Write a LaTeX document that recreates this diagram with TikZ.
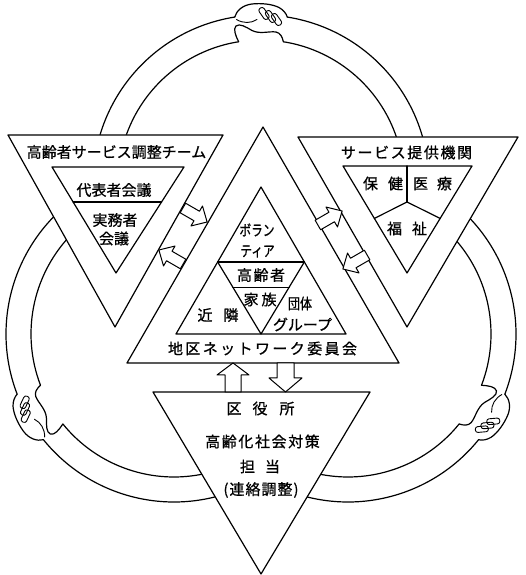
\documentclass[tikz,border=0pt]{standalone}
\usepackage{graphicx}
\usepackage{fontspec}
\newfontfamily\jp[FakeBold=0.8]{Noto Sans CJK JP}
\usetikzlibrary{calc}
\makeatletter
% set the characters of #2 with a kern of #1 between them
\newcommand\spreadtext[2]{\def\spr@k{#1}\spr@loop#2\@nil}
\def\spr@loop#1#2\@nil{#1\ifx\relax#2\relax\else\kern\spr@k\spr@loop#2\@nil\fi}
\makeatother

\tikzset{
  % two clasped hands joining the ends of a ring band (band runs along x, outside is +y)
  pics/clasp/.style={code={
    \draw (-26.28,10.43) .. controls (-24.5,17) and (-18,22.5) .. (-9,23.5)
          .. controls (0,24.5) and (11,23.5) .. (18,20)
          .. controls (22.5,17.5) and (25.2,14) .. (26.28,10.43);
    \foreach \fx/\fy in {3/14,9.5/11,15.5/8}
      \draw[line width=0.9pt,rounded corners=2.4pt,shift={(\fx,\fy)},rotate=35]
        (-2.9,-6.5) -- (2.9,-6.5) -- (2.9,6.5) -- (-2.9,6.5) -- cycle;
    \draw[line width=0.9pt] (-24.5,8) .. controls (-18,4) and (-10,4) .. (-4,8);
    \draw (-22.37,-14.26) .. controls (-25.5,-8) and (-28,-1.5) .. (-25,1.5)
          .. controls (-21.5,4.5) and (-15,0.5) .. (-9,-3)
          .. controls (-1,-7) and (8,-3.5) .. (15,-4.5)
          .. controls (19.5,-5.5) and (21.3,-9.5) .. (22.37,-14.26);
  }},
  % hollow block arrow pointing along +x
  pics/sidearrow/.style={code={
    \draw[blk] (-14,-5.5) -- (2,-5.5) -- (2,-11.5) -- (14,0) -- (2,11.5) -- (2,5.5) -- (-14,5.5) -- cycle;
  }}
}

\begin{document}
\begin{tikzpicture}[x=1pt,y=1pt,line width=1.2pt,line join=round,line cap=round,
  panel/.style={draw,fill=white},
  lbl/.style={inner sep=0pt,font=\fontsize{15}{15}\selectfont\jp},
  blk/.style={draw,fill=white,line width=1pt}]
\useasboundingbox (0,0) rectangle (525,575);

% centres of the three ring arcs
\coordinate (cT) at (261,392);
\coordinate (cL) at (174,241);
\coordinate (cR) at (348,241);

% ring band: outer radius 168, inner radius 143
\draw ([shift={(167:168)}]cT) arc[start angle=167,end angle=99,radius=168];
\draw ([shift={(81:168)}]cT) arc[start angle=81,end angle=13,radius=168];
\draw ([shift={(164:143)}]cT) arc[start angle=164,end angle=99,radius=143];
\draw ([shift={(81:143)}]cT) arc[start angle=81,end angle=16,radius=143];
\draw ([shift={(134:168)}]cL) arc[start angle=134,end angle=201,radius=168];
\draw ([shift={(219:168)}]cL) arc[start angle=219,end angle=286,radius=168];
\draw ([shift={(137:143)}]cL) arc[start angle=137,end angle=201,radius=143];
\draw ([shift={(219:143)}]cL) arc[start angle=219,end angle=283,radius=143];
\draw ([shift={(46:168)}]cR) arc[start angle=46,end angle=-21,radius=168];
\draw ([shift={(-39:168)}]cR) arc[start angle=-39,end angle=-106,radius=168];
\draw ([shift={(43:143)}]cR) arc[start angle=43,end angle=-21,radius=143];
\draw ([shift={(-39:143)}]cR) arc[start angle=-39,end angle=-103,radius=143];

% hands
\pic[rotate=0] at ([shift={(90:155.5)}]cT) {clasp};
\pic[rotate=120] at ([shift={(210:155.5)}]cL) {clasp};
\pic[rotate=240] at ([shift={(330:155.5)}]cR) {clasp};

% the four triangles
\coordinate (LT1) at (8,440);   \coordinate (LT2) at (223,440); \coordinate (LT3) at (115,248);
\coordinate (RT1) at (298,438); \coordinate (RT2) at (518,438); \coordinate (RT3) at (407,248);
\coordinate (CT1) at (263,448); \coordinate (CT2) at (127,212); \coordinate (CT3) at (399,212);
\coordinate (BT1) at (153,183); \coordinate (BT2) at (370,183); \coordinate (BT3) at (261,1);
\draw[panel] (LT1) -- (LT2) -- (LT3) -- cycle;
\draw[panel] (RT1) -- (RT2) -- (RT3) -- cycle;
\draw[panel] (CT1) -- (CT2) -- (CT3) -- cycle;
\draw[panel] (BT1) -- (BT2) -- (BT3) -- cycle;

% left inner triangle
\coordinate (LI1) at (52,408); \coordinate (LI2) at (184,408); \coordinate (LI3) at (116,302);
\draw (LI1) -- (LI2) -- (LI3) -- cycle;
\draw ($(LI1)!0.33!(LI3)$) -- ($(LI2)!0.33!(LI3)$);

% right inner triangle
\coordinate (RI1) at (343,409); \coordinate (RI2) at (472,409); \coordinate (RI3) at (407,302);
\draw (RI1) -- (RI2) -- (RI3) -- cycle;
\coordinate (RY) at (407,373);
\draw (RY) -- (RY |- RI1);
\draw (RY) -- ($(RI1)!0.49!(RI3)$);
\draw (RY) -- ($(RI2)!0.49!(RI3)$);

% centre inner triangle
\coordinate (CI1) at (261,388); \coordinate (CI2) at (176,241); \coordinate (CI3) at (346,241);
\draw (CI1) -- (CI2) -- (CI3) -- cycle;
\coordinate (CIa) at ($(CI1)!0.51!(CI2)$);
\coordinate (CIb) at ($(CI1)!0.51!(CI3)$);
\coordinate (CIm) at ($(CI2)!0.5!(CI3)$);
\draw (CIa) -- (CIb);
\draw (CIa) -- (CIm) -- (CIb);
\draw ($(CIa)!0.35!(CIm)$) -- ($(CIb)!0.35!(CIm)$);

% labels
\node[lbl] (hdrL) at (116.5,423) {高齢者サービス調整チーム};
\node[lbl] (dai) at (114,385) {代表者会議};
\node[lbl] (jitsu) at (115,355) {実務者};
\node[lbl] (kaigi) at (114,336.5) {会議};
\node[lbl] (hdrR) at (406.5,422.5) {\spreadtext{1.6pt}{サービス提供機関}};
\node[lbl] (hoken) at (383,391.5) {保\hspace{10pt}健};
\node[lbl] (iryo) at (432.5,391.5) {医\hspace{9pt}療};
\node[lbl] (fuku) at (407,346.5) {福\hspace{10pt}祉};
\node[lbl] (vol1) at (257,345) {\scalebox{0.78}[1]{ボラン}};
\node[lbl] (vol2) at (257.5,323.5) {\scalebox{0.78}[1]{ティア}};
\node[lbl] (kou) at (261,300) {\spreadtext{1.5pt}{高齢者}};
\node[lbl] (kaz) at (260,275.5) {\spreadtext{3pt}{家族}};
\node[lbl] (kin) at (218,260) {近\hspace{11pt}隣};
\node[lbl] (dan) at (300,271.5) {\scalebox{0.8}[1]{団体}};
\node[lbl] (grp) at (302.5,250.5) {グループ};
\node[lbl] (chiku) at (262.5,226.5) {\spreadtext{2.4pt}{地区ネットワーク委員会}};
\node[lbl] (kuy) at (260.5,166.5) {区\hspace{11pt}役\hspace{12pt}所};
\node[lbl] (tai) at (262.5,133.5) {\spreadtext{1.6pt}{高齢化社会対策}};
\node[lbl] (tan) at (260,108.5) {担\hspace{10pt}当};
\node[lbl] (ren) at (261,85) {(\kern1pt\spreadtext{1pt}{連絡調整}\kern1pt)};

% arrows across the gaps
\pic[rotate=-30] at (195,360) {sidearrow};
\pic[rotate=150] at (171,318) {sidearrow};
\pic[rotate=30] at (330,357) {sidearrow};
\pic[rotate=210] at (355,313) {sidearrow};
\draw[blk] (225,183) -- (225,200) -- (217,200) -- (233,212) -- (249,200) -- (241,200) -- (241,183) -- cycle;
\draw[blk] (277,212) -- (277,197) -- (269,197) -- (285.5,183) -- (302,197) -- (294,197) -- (294,212) -- cycle;
\end{tikzpicture}
\end{document}
